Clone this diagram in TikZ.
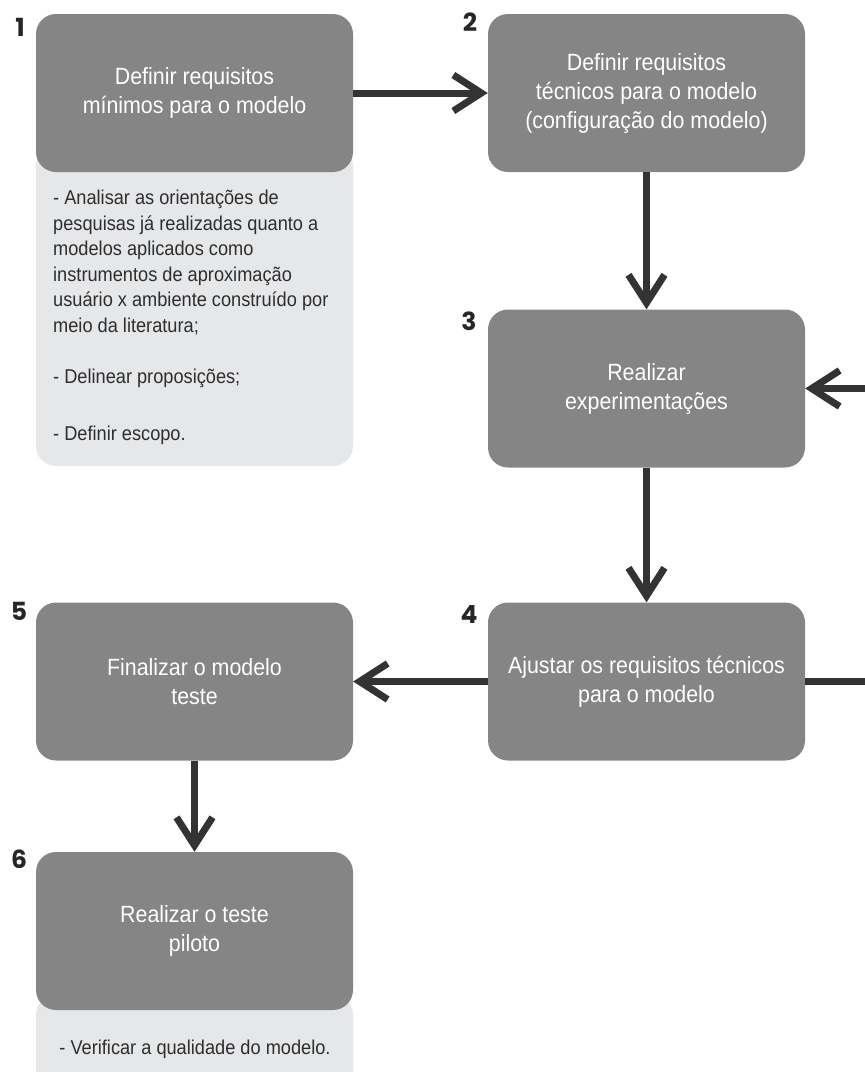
\documentclass[tikz,border=0pt]{standalone}
\usepackage{fontspec}
\setmainfont{Liberation Sans}[FakeStretch=0.91]
\newfontfamily\numfont{Poppins}
\usetikzlibrary{arrows.meta}
\definecolor{boxdark}{HTML}{858585}
\definecolor{boxlight}{HTML}{E6E7E9}
\definecolor{arrowc}{HTML}{333333}
\definecolor{notetext}{HTML}{2E2E2E}
\tikzset{
  stepbox/.style={rectangle, rounded corners=20pt, fill=boxdark, draw=none,
    minimum width=317pt, minimum height=158pt, inner sep=0pt,
    text=white, align=center, font=\fontsize{23.5pt}{29pt}\selectfont},
  notebox/.style={rectangle, rounded corners=20pt, fill=boxlight, draw=none,
    minimum width=317pt, inner sep=0pt},
  noteline/.style={anchor=base west, inner sep=0pt, text=notetext,
    font=\fontsize{20pt}{24pt}\selectfont},
  numlabel/.style={inner sep=0pt, text=black!85, font=\numfont\bfseries\fontsize{25pt}{25pt}\selectfont},
  flow/.style={draw=arrowc, line width=7pt,
    -{Straight Barb[length=28pt,width=36pt]}}
}
\begin{document}
\begin{tikzpicture}[x=1pt,y=-1pt]
\useasboundingbox (0,0) rectangle (865,1072);
% note boxes behind
\node[notebox, minimum height=320pt] (note1) at (194.5,306) {};
\node[notebox, minimum height=130pt] (note6) at (194.5,1060) {};
% step boxes
\node[stepbox] (s1) at (194.5,93) {Definir requisitos\\mínimos para o modelo};
\node[stepbox] (s2) at (646.5,93) {Definir requisitos\\técnicos para o modelo\\(configuração do modelo)};
\node[stepbox] (s3) at (646.5,388.5) {Realizar\\experimentações};
\node[stepbox] (s4) at (646.5,681.5) {Ajustar os requisitos técnicos\\para o modelo};
\node[stepbox] (s5) at (194.5,681.5) {Finalizar o modelo\\teste};
\node[stepbox] (s6) at (194.5,931) {Realizar o teste\\piloto};
% numbers
\node[numlabel] (n1) at (20,27) {1};
\node[numlabel] (n2) at (470,22) {2};
\node[numlabel] (n3) at (469,321) {3};
\node[numlabel] (n4) at (469,614) {4};
\node[numlabel] (n5) at (19,611) {5};
\node[numlabel] (n6) at (19,859) {6};
% note texts
\node[noteline] (t1) at (53,204.5) {- Analisar as orientações de};
\node[noteline] (t2) at (53,230) {pesquisas já realizadas quanto a};
\node[noteline] (t3) at (53,255.5) {modelos aplicados como};
\node[noteline] (t4) at (53,281) {instrumentos de aproximação};
\node[noteline] (t5) at (53,306.5) {usuário x ambiente construído por};
\node[noteline] (t6) at (53,332) {meio da literatura;};
\node[noteline] (t7) at (53,383) {- Delinear proposições;};
\node[noteline] (t8) at (53,440) {- Definir escopo.};
\node[noteline, anchor=base] (t9) at (195,1054) {- Verificar a qualidade do modelo.};
% connectors
\draw[flow] (s1.east) -- (s2.west);
\draw[flow] (s2.south) -- (s3.north);
\draw[flow] (s3.south) -- (s4.north);
\draw[flow] (s4.west) -- (s5.east);
\draw[flow] (s5.south) -- (s6.north);
\draw[flow] (s4.east) -- ++(80,0) |- (s3.east);
\end{tikzpicture}
\end{document}
